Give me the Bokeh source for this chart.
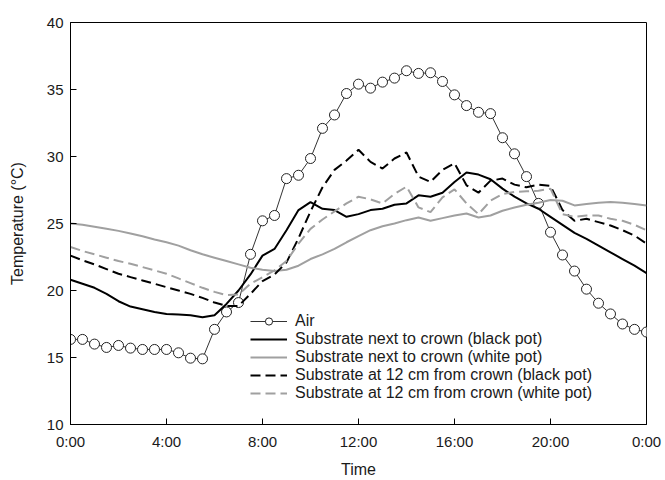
from bokeh.plotting import figure
from bokeh.models import FixedTicker, Legend, LegendItem, Range1d
from bokeh.embed import file_html
from bokeh.resources import INLINE

# ---- data (hours of the day, half-hourly) ----
hours = [i * 0.5 for i in range(49)]

air = [16.35, 16.35, 16.0, 15.75, 15.9, 15.7, 15.6, 15.6, 15.6, 15.35, 14.95, 14.9,
       17.1, 18.4, 19.1, 22.7, 25.2, 25.6, 28.35, 28.6, 29.85, 32.1, 33.1, 34.7,
       35.4, 35.1, 35.55, 35.85, 36.4, 36.2, 36.25, 35.6, 34.6, 33.8, 33.3, 33.2,
       31.4, 30.2, 28.5, 26.5, 24.35, 22.65, 21.45, 20.1, 19.05, 18.25, 17.5, 17.1, 16.9]

crown_black = [20.8, 20.5, 20.2, 19.75, 19.2, 18.8, 18.6, 18.4, 18.25, 18.2, 18.15, 18.0,
               18.15, 19.0, 20.0, 21.2, 22.6, 23.1, 24.5, 26.0, 26.6, 26.1, 26.0, 25.5,
               25.7, 26.0, 26.1, 26.4, 26.5, 27.1, 27.0, 27.3, 28.1, 28.8, 28.65, 28.3,
               27.6, 27.0, 26.5, 26.1, 25.5, 24.9, 24.3, 23.85, 23.35, 22.85, 22.35, 21.85, 21.3]

crown_white = [25.0, 24.9, 24.75, 24.6, 24.45, 24.25, 24.05, 23.8, 23.6, 23.35, 23.0, 22.7,
               22.45, 22.2, 21.95, 21.7, 21.55, 21.45, 21.55, 21.85, 22.35, 22.7, 23.1, 23.6,
               24.05, 24.5, 24.8, 25.0, 25.25, 25.45, 25.2, 25.4, 25.6, 25.75, 25.45, 25.6,
               25.95, 26.2, 26.4, 26.55, 26.75, 26.7, 26.35, 26.45, 26.55, 26.6, 26.55, 26.45, 26.35]

cm12_black = [22.6, 22.25, 21.95, 21.6, 21.25, 21.0, 20.75, 20.5, 20.25, 20.0, 19.75, 19.45,
              19.1, 18.85, 18.85, 19.75, 20.7, 21.2, 22.1, 23.9, 25.9, 27.7, 29.0, 29.7,
              30.5, 29.6, 29.1, 29.85, 30.3, 28.5, 28.1, 29.0, 29.5, 27.85, 27.3, 28.2,
              28.35, 27.9, 27.7, 27.9, 27.8, 26.0, 25.2, 25.35, 25.1, 24.85, 24.5, 24.1, 23.5]

cm12_white = [23.25, 22.95, 22.7, 22.45, 22.2, 22.0, 21.75, 21.5, 21.25, 20.9, 20.55, 20.2,
              19.9, 19.65, 19.7, 20.5, 21.0, 21.5, 22.2, 23.5, 24.6, 25.3, 25.9, 26.5,
              27.0, 26.8, 26.5, 27.2, 27.75, 26.2, 25.85, 26.95, 27.55, 26.5, 25.7, 26.7,
              27.2, 27.35, 27.4, 27.45, 27.6, 25.7, 25.5, 25.6, 25.6, 25.35, 25.2, 24.9, 24.5]

series_labels = ["Air",
                 "Substrate next to crown (black pot)",
                 "Substrate next to crown (white pot)",
                 "Substrate at 12 cm from crown (black pot)",
                 "Substrate at 12 cm from crown (white pot)"]

x_ticks = [0, 4, 8, 12, 16, 20, 24]
x_tick_labels = ["0:00", "4:00", "8:00", "12:00", "16:00", "20:00", "0:00"]
y_ticks = [10, 15, 20, 25, 30, 35, 40]

FONT = "Liberation Sans"
GRAY = "#a0a0a0"

p = figure(width=665, height=480, output_backend="svg", toolbar_location=None,
           x_range=Range1d(0, 24), y_range=Range1d(10, 40),
           min_border_left=70, min_border_right=19, min_border_top=22, min_border_bottom=56)

p.outline_line_color = "black"
p.outline_line_width = 1
p.xgrid.visible = False
p.ygrid.visible = False
p.background_fill_color = "white"
p.border_fill_color = "white"

for ax in (p.xaxis[0], p.yaxis[0]):
    ax.axis_line_color = "black"
    ax.major_tick_in = 6
    ax.major_tick_out = 0
    ax.minor_tick_line_color = None
    ax.major_tick_line_color = "black"
    ax.major_label_text_font = FONT
    ax.major_label_text_font_size = "15px"
    ax.major_label_text_color = "#1a1a1a"
    ax.axis_label_text_font = FONT
    ax.axis_label_text_font_size = "16px"
    ax.axis_label_text_font_style = "normal"
    ax.axis_label_text_color = "#1a1a1a"

p.xaxis.ticker = FixedTicker(ticks=x_ticks)
p.xaxis.major_label_overrides = {t: lab for t, lab in zip(x_ticks, x_tick_labels)}
p.xaxis.axis_label = "Time"
p.xaxis.major_label_standoff = 8
p.xaxis.axis_label_standoff = 8

p.yaxis.ticker = FixedTicker(ticks=y_ticks)
p.yaxis.axis_label = "Temperature (°C)"
p.yaxis.major_label_standoff = 7
p.yaxis.axis_label_standoff = 18

# Air (drawn first, underneath)
r_air_line = p.line(hours, air, line_color="#333333", line_width=1)
r_air_pts = p.scatter(hours, air, marker="circle", size=10, fill_color="white",
                      line_color="#222222", line_width=1)

r_cb = p.line(hours, crown_black, line_color="black", line_width=2)
r_cw = p.line(hours, crown_white, line_color=GRAY, line_width=2)
r_kb = p.line(hours, cm12_black, line_color="black", line_width=2, line_dash="10 5")
r_kw = p.line(hours, cm12_white, line_color=GRAY, line_width=2, line_dash="10 5")

items = [
    LegendItem(label=series_labels[0], renderers=[r_air_line, r_air_pts]),
    LegendItem(label=series_labels[1], renderers=[r_cb]),
    LegendItem(label=series_labels[2], renderers=[r_cw]),
    LegendItem(label=series_labels[3], renderers=[r_kb]),
    LegendItem(label=series_labels[4], renderers=[r_kw]),
]
legend = Legend(items=items, location=(180, 22),
                glyph_width=37, glyph_height=18, label_height=18, spacing=0,
                label_standoff=8, padding=0, margin=0,
                border_line_alpha=0, background_fill_alpha=0,
                label_text_font=FONT, label_text_font_size="16px",
                label_text_color="#1a1a1a")
p.add_layout(legend, "center")

open("out.html", "w").write(file_html(p, INLINE))
